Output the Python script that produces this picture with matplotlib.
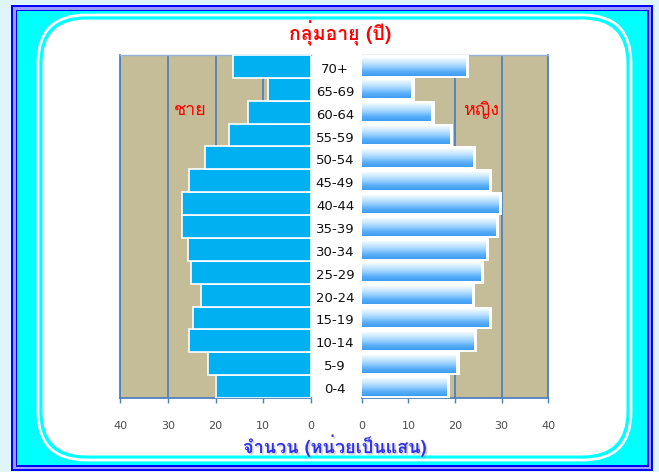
import numpy as np
import matplotlib
matplotlib.use("Agg")
import matplotlib.pyplot as plt
from matplotlib import font_manager
from matplotlib.patches import Rectangle, FancyBboxPatch
from matplotlib.colors import LinearSegmentedColormap
import matplotlib.patheffects as pe
from fontTools.ttLib import TTFont

# Data (unit: hundred thousand people)
age_groups = ["0-4", "5-9", "10-14", "15-19", "20-24", "25-29", "30-34", "35-39",
              "40-44", "45-49", "50-54", "55-59", "60-64", "65-69", "70+"]
male = [20.0, 21.6, 25.5, 24.8, 23.1, 25.1, 25.8, 27.0, 27.1, 25.5, 22.2, 17.1, 13.2, 9.1, 16.4]
female = [18.2, 20.2, 24.0, 27.2, 23.5, 25.4, 26.5, 28.7, 29.4, 27.1, 23.8, 18.8, 14.8, 10.5, 22.2]
x_ticks = [0, 10, 20, 30, 40]

TITLE = "กลุ่มอายุ (ปี)"
XLABEL = "จำนวน (หน่วยเป็นแสน)"
MALE_LABEL = "ชาย"
FEMALE_LABEL = "หญิง"


def find_thai_font():
    # look for any installed font that has Thai glyphs
    found = []
    for f in font_manager.fontManager.ttflist:
        try:
            tt = TTFont(f.fname, fontNumber=0, lazy=True)
            cmap = tt.getBestCmap()
            if cmap and 0x0E01 in cmap and 0x0E33 in cmap and 0x0E48 in cmap:
                found.append(f.name)
        except Exception:
            pass
    return found[0] if found else "DejaVu Sans"


thai_font = find_thai_font()
thai_family = [thai_font, "DejaVu Sans"]

W, H = 659, 472
fig = plt.figure(figsize=(W / 100, H / 100), dpi=100)
fig.patch.set_facecolor("#DDF5FB")

# background frame drawn in pixel coordinates
bg = fig.add_axes([0, 0, 1, 1], zorder=-5)
bg.set_xlim(0, W)
bg.set_ylim(H, 0)
bg.axis("off")
bg.add_patch(Rectangle((11, 5), 642, 466, color="#0000FF", lw=0))
bg.add_patch(Rectangle((13, 7), 638, 462, color="#9C9CFF", lw=0))
bg.add_patch(Rectangle((15.5, 9.5), 633, 457, color="#0000FF", lw=0))
bg.add_patch(Rectangle((17, 11), 630, 454, color="#00FFFF", lw=0))
bg.add_patch(FancyBboxPatch((38, 15), 593, 445, boxstyle="round,pad=0,rounding_size=48",
                            fc="none", ec="white", lw=2))
bg.add_patch(FancyBboxPatch((42.5, 19.5), 584, 436, boxstyle="round,pad=0,rounding_size=44",
                            fc="white", ec="none"))

# panel geometry (figure fractions)
bottom = 1 - 398 / H
height = (398 - 55) / H
ax_l = fig.add_axes([120 / W, bottom, (311 - 120) / W, height])
ax_r = fig.add_axes([362 / W, bottom, (548 - 362) / W, height])

tan = "#C4BD97"
grid_c = "#4F81BD"
y = np.arange(len(age_groups))

for ax in (ax_l, ax_r):
    ax.set_facecolor(tan)
    ax.set_axisbelow(True)
    ax.set_ylim(-0.5, len(age_groups) - 0.5)
    ax.set_xticks(x_ticks)
    ax.set_xticklabels([str(t) for t in x_ticks])
    ax.set_yticks([])
    ax.grid(axis="x", color=grid_c, lw=1.3)
    ax.tick_params(axis="x", length=3.5, width=1, color=grid_c, pad=13,
                   labelsize=8, labelcolor="#4D4D4D")
    ax.spines["bottom"].set_color(grid_c)
    ax.spines["bottom"].set_linewidth(1.3)
    ax.spines["top"].set_color("#95B3D7")
    ax.spines["top"].set_linewidth(1)

# male side
ax_l.set_xlim(40, 0)
ax_l.barh(y, male, height=1.0, color="#00B0F0", edgecolor="white", lw=1.2, zorder=3)
ax_l.spines["left"].set_color(grid_c)
ax_l.spines["left"].set_linewidth(1.3)
ax_l.spines["right"].set_visible(False)

# female side: white halo boxes with gradient bars on top
grad_cmap = LinearSegmentedColormap.from_list(
    "fem", ["#F2FAFF", "#C6E7FF", "#94CEFF", "#5AAEF8", "#3E9CF2"])
grad = np.linspace(0, 1, 64).reshape(-1, 1)
ax_r.barh(y, [v + 0.8 for v in female], height=1.0, color="white", lw=0, zorder=3)
for yi, v in zip(y, female):
    ax_r.imshow(grad, cmap=grad_cmap, aspect="auto", interpolation="bilinear",
                extent=[0, v, yi - 0.4, yi + 0.38], zorder=4)
ax_r.set_xlim(0, 40)
ax_r.set_ylim(-0.5, len(age_groups) - 0.5)
ax_r.spines["right"].set_color(grid_c)
ax_r.spines["right"].set_linewidth(1.3)
ax_r.spines["left"].set_visible(False)

# age group labels between the panels
for yi, lab in zip(y, age_groups):
    ax_r.text(-0.145, yi - 0.13, lab, transform=ax_r.get_yaxis_transform(), ha="center",
              va="center", fontsize=9.5, color="#111111", clip_on=False)

# texts
fig.text(340 / W, 1 - 33 / H, TITLE, ha="center", va="center", fontsize=14,
         fontweight="bold", color="#FF0000", family=thai_family)
fig.text(190 / W, 1 - 110 / H, MALE_LABEL, ha="center", va="center", fontsize=13,
         color="#FF0000", family=thai_family, zorder=10)
fig.text(481 / W, 1 - 110 / H, FEMALE_LABEL, ha="center", va="center", fontsize=13,
         color="#FF0000", family=thai_family, zorder=10)
fig.text(335 / W, 1 - 446 / H, XLABEL, ha="center", va="center", fontsize=13,
         fontweight="bold", color="#3030F0", family=thai_family,
         path_effects=[pe.withSimplePatchShadow(offset=(1.2, -1.2), shadow_rgbFace="#999999", alpha=0.4)])

fig.savefig("out.png", dpi=100, facecolor=fig.get_facecolor())
